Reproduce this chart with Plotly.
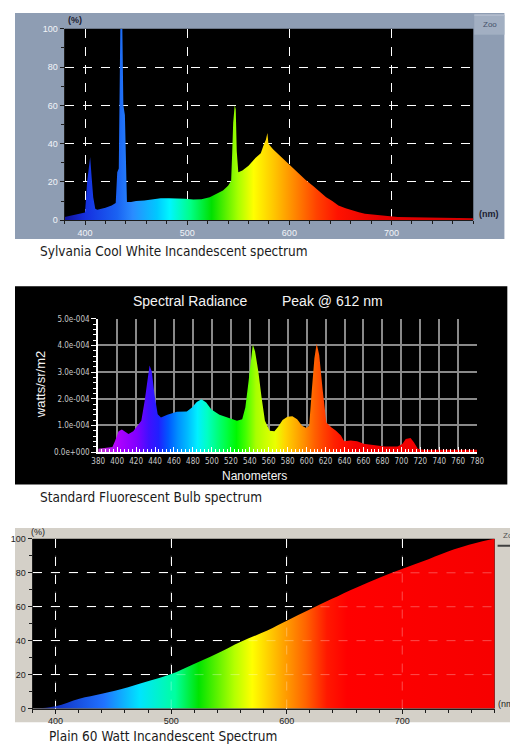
import plotly.graph_objects as go

W, H = 518, 745

# --- Sylvania Cool White (percent) ---
wl_cool = [380, 385, 390, 395, 400, 402, 403.5, 405, 406.5, 408, 410, 412, 420, 426,
           430, 431.5, 433, 434.5, 436.5, 437.5, 439, 440, 441, 445, 450, 458, 466,
           474, 482, 490, 498, 506, 514, 522, 528, 535, 540, 543, 544, 545, 546.5,
           547.5, 548.5, 550, 554, 560, 567, 572, 575, 577, 578.5, 579.5, 584, 590,
           597, 604, 610, 616, 623, 630, 636, 642, 648, 655, 661, 668, 674, 682, 690,
           698, 706, 720, 738, 755, 770, 780]
pct_cool = [1.7, 2.2, 2.8, 3.4, 4, 20, 28, 33, 22, 12, 6, 5.5, 6.5, 7.7,
            9, 25, 27, 100, 100, 60, 55, 20, 9.5, 9.5, 10, 10.3, 11,
            11.5, 11.5, 11.5, 11.2, 10.8, 11, 12, 13.5, 15.5, 18, 20.6, 35, 51, 60,
            58, 36, 25, 26, 28.5, 32.6, 35, 39.5, 42, 45.5, 40, 37, 34,
            30, 27, 24, 21, 18, 14.5, 12, 10, 7.7, 6.3, 5.2, 4.2, 3.4, 3, 2.6,
            2.1, 1.7, 1.5, 1.3, 1.1, 1.0, 1.0]

# --- Standard fluorescent (radiance, x1e-4 W/sr/m2) ---
wl_fluo = [380, 386, 395, 398, 401.5, 405, 408.5, 412, 417, 422, 425.5, 429, 432, 434.2,
           436.6, 439.4, 442.8, 446.2, 453, 463, 473.5, 479, 484, 489, 494, 499.5,
           508, 518, 526.5, 532, 535.3, 538.7, 541.5, 543.2, 545.6, 549, 552.5, 556,
           561, 566, 570, 574.6, 579.7, 585, 590, 595.2, 599.6, 602.7, 605.4, 608.2,
           610.6, 613.3, 616.7, 620.8, 626, 631, 636.2, 639.6, 646.5, 653.3, 660.2,
           672, 682.4, 696, 701.2, 704.6, 709.7, 713.2, 717.3, 723.4, 740, 760, 780]
rad_fluo = [0.12, 0.14, 0.19, 0.43, 0.78, 0.85, 0.78, 0.68, 0.78, 0.99, 1.17, 1.91, 2.78, 3.25,
            3.02, 2.16, 1.42, 1.30, 1.40, 1.51, 1.52, 1.67, 1.88, 1.98, 1.86, 1.60,
            1.40, 1.27, 1.17, 1.23, 1.67, 2.65, 3.64, 4.04, 3.77, 3.03, 2.04, 1.17,
            0.80, 0.78, 0.95, 1.20, 1.32, 1.34, 1.23, 0.99, 0.90, 0.99, 2.28, 3.52,
            4.07, 3.64, 2.41, 1.11, 0.93, 0.80, 0.62, 0.40, 0.43, 0.40, 0.31,
            0.25, 0.21, 0.21, 0.31, 0.49, 0.53, 0.37, 0.12, 0.09, 0.09, 0.09, 0.09]

# --- Plain 60 W incandescent (percent) ---
wl_inc = [380, 400, 420.5, 440, 462.7, 482, 500, 518.8, 538.4, 560.8, 583.2, 601, 619,
          638.7, 661, 680.7, 700.3, 722.7, 745, 762, 780]
pct_inc = [0, 1.4, 5.8, 8.7, 12.6, 16.5, 20.3, 26, 32, 39.5, 46, 52, 58,
           64.5, 71.5, 77.2, 82.4, 88, 93.8, 97.3, 100]

pct_ticks = [0, 20, 40, 60, 80, 100]
nm_ticks = [400, 500, 600, 700]
fluo_ticks = ["0.0e+000", "1.0e-004", "2.0e-004", "3.0e-004", "4.0e-004", "5.0e-004"]


def scale(stops):
    return [[(w - 380) / 400, c] for w, c in stops]


COOL_SCALE = scale([(380, "#12129a"), (400, "#1530e0"), (430, "#1a62f2"), (445, "#2a8cff"),
                    (468, "#00c8ff"), (480, "#00f6ff"), (500, "#00ff86"), (520, "#00e000"),
                    (545, "#a6ff00"), (560, "#ffff00"), (580, "#ffc400"), (600, "#ff8400"),
                    (620, "#ff4200"), (640, "#ff1200"), (680, "#e40000"), (780, "#d20000")])
FLUO_SCALE = scale([(380, "#c040c8"), (400, "#b000ff"), (420, "#8000ff"), (432, "#4010ff"),
                    (442, "#2020ff"), (452, "#0058ff"), (462, "#0090ff"), (472, "#00bcff"),
                    (482, "#00f0ff"), (492, "#00ffc4"), (502, "#00ff80"), (512, "#00ff40"),
                    (522, "#00f800"), (532, "#48ff00"), (542, "#a8ff00"), (552, "#ccff00"),
                    (562, "#eaff00"), (572, "#ffd400"), (582, "#ffb000"), (592, "#ff8c00"),
                    (602, "#ff6200"), (612, "#ff4000"), (622, "#ff2200"), (632, "#ff1000"),
                    (645, "#f40000"), (780, "#ee0000")])
INC_SCALE = scale([(380, "#101078"), (400, "#1232c4"), (440, "#2072ff"), (470, "#00e4ff"),
                   (500, "#00ffa0"), (520, "#00e400"), (550, "#b4ff00"), (565, "#ffff00"),
                   (590, "#ffa800"), (610, "#ff6400"), (628, "#ff1800"), (645, "#ff0000"),
                   (780, "#f60000")])


def fx(x):
    return x / W


def fy(y):
    return 1 - y / H


fig = go.Figure()
for i, (wl, val, cs, shape) in enumerate([(wl_cool, pct_cool, COOL_SCALE, "linear"),
                                          (wl_fluo, rad_fluo, FLUO_SCALE, "linear"),
                                          (wl_inc, pct_inc, INC_SCALE, "spline")]):
    suffix = "" if i == 0 else str(i + 1)
    fig.add_trace(go.Scatter(
        x=wl, y=val, xaxis="x" + suffix, yaxis="y" + suffix, mode="lines",
        line=dict(width=0, shape=shape), fill="tozeroy",
        fillgradient=dict(type="horizontal", colorscale=cs, start=380, stop=780),
        hoverinfo="skip", showlegend=False,
    ))

tick_font = dict(family="Liberation Sans, Arial", size=9)
dash_grid = dict(showgrid=True, gridcolor="#ffffff", griddash="dash", gridwidth=1,
                 zeroline=False, ticks="outside", ticklen=4, showline=True)
small_font = dict(family="DejaVu Sans Condensed, DejaVu Sans", size=8, color="#c8c8c8")

fig.update_layout(
    width=W, height=H, margin=dict(l=0, r=0, t=0, b=0),
    paper_bgcolor="#ffffff", plot_bgcolor="#000000", showlegend=False,
    xaxis=dict(domain=[fx(51), fx(471)], anchor="y", range=[380, 780],
               tickvals=nm_ticks, tickfont=dict(tick_font, color="#f2f4f8"),
               tickcolor="#1c1c1c", linecolor="#1c1c1c",
               minor=dict(dtick=20, ticks="outside", ticklen=3, tickcolor="#1c1c1c",
                          showgrid=False), **dash_grid),
    yaxis=dict(domain=[fy(210), fy(16)], anchor="x", range=[0, 100],
               tickvals=pct_ticks, tickfont=dict(tick_font, color="#f2f4f8"),
               tickcolor="#1c1c1c", linecolor="#1c1c1c",
               minor=dict(dtick=10, ticks="outside", ticklen=3, tickcolor="#1c1c1c",
                          showgrid=False), **dash_grid),
    xaxis2=dict(domain=[fx(85.5), fx(475)], anchor="y2", range=[380, 780], dtick=20,
                tickfont=small_font,
                showgrid=True, gridcolor="#8a8a8a", gridwidth=2, zeroline=False,
                showline=True, linecolor="#ffffff", linewidth=2, ticks="inside",
                ticklen=5, tickcolor="#ffffff",
                minor=dict(dtick=4, ticks="inside", ticklen=3, tickcolor="#ffffff",
                           showgrid=False)),
    yaxis2=dict(domain=[fy(445), fy(310)], anchor="x2", range=[0, 5],
                tickvals=[0, 1, 2, 3, 4, 5], ticktext=fluo_ticks, tickfont=small_font,
                showgrid=True, gridcolor="#8a8a8a", gridwidth=2, zeroline=False,
                showline=True, linecolor="#ffffff", linewidth=2, ticks="outside",
                ticklen=5, tickcolor="#ffffff",
                minor=dict(dtick=0.2, ticks="outside", ticklen=3, tickcolor="#ffffff",
                           showgrid=False)),
    xaxis3=dict(domain=[fx(18), fx(493)], anchor="y3", range=[380, 780],
                tickvals=nm_ticks, tickfont=dict(tick_font, color="#1e1e1e"),
                tickcolor="#1c1c1c", linecolor="#1c1c1c",
                minor=dict(dtick=20, ticks="outside", ticklen=3, tickcolor="#1c1c1c",
                           showgrid=False), **dash_grid),
    yaxis3=dict(domain=[fy(705), fy(533)], anchor="x3", range=[0, 100],
                tickvals=pct_ticks, tickfont=dict(tick_font, color="#1e1e1e"),
                tickcolor="#1c1c1c", linecolor="#1c1c1c",
                minor=dict(dtick=10, ticks="outside", ticklen=3, tickcolor="#1c1c1c",
                           showgrid=False), **dash_grid),
)

# panel backgrounds, black plot areas and the little "Zoom" buttons
panels = [
    dict(x0=0, x1=503, y0=0, y1=229, fill="#8e9db3", layer="below"),
    dict(x0=0, x1=506, y0=277, y1=478, fill="#000000", layer="below"),
    dict(x0=0, x1=518, y0=522, y1=719, fill="#d4d0c8", layer="below"),
    dict(x0=51, x1=471, y0=16, y1=210, fill="#000000", layer="below"),
    dict(x0=18, x1=493, y0=533, y1=705, fill="#000000", layer="below"),
    dict(x0=472, x1=503, y0=2, y1=22, fill="#a2afc2", layer="above"),
    dict(x0=496, x1=518, y0=522, y1=540, fill="#d4d0c8", layer="above"),
]
for p in panels:
    fig.add_shape(type="rect", xref="paper", yref="paper",
                  x0=fx(p["x0"]), x1=fx(p["x1"]), y0=fy(p["y1"]), y1=fy(p["y0"]),
                  fillcolor=p["fill"], line=dict(width=0), layer=p["layer"])
fig.add_shape(type="line", xref="paper", yref="paper", x0=fx(472), x1=fx(503),
              y0=fy(2), y1=fy(2), line=dict(color="#c4cdda", width=1))
fig.add_shape(type="line", xref="paper", yref="paper", x0=fx(496), x1=fx(518),
              y0=fy(540), y1=fy(540), line=dict(color="#404040", width=2))

# faint dashed grid showing through the incandescent fill
for v in nm_ticks:
    fig.add_shape(type="line", xref="x3", yref="y3 domain", x0=v, x1=v, y0=0, y1=1,
                  line=dict(color="#ffffff", width=1, dash="dash"), opacity=0.3)
for v in pct_ticks[1:-1]:
    fig.add_shape(type="line", xref="x3 domain", yref="y3", x0=0, x1=1, y0=v, y1=v,
                  line=dict(color="#ffffff", width=1, dash="dash"), opacity=0.3)


def label(text, x, y, size, color, family="Liberation Sans, Arial", anchor="center",
          angle=0):
    fig.add_annotation(text=text, x=fx(x), y=fy(y), xref="paper", yref="paper",
                       xanchor=anchor, yanchor="middle", showarrow=False, textangle=angle,
                       font=dict(family=family, size=size, color=color))


label("<b>(%)</b>", 62, 7, 9, "#1c2030")
label("<b>(nm)</b>", 487, 204, 9, "#1c2030")
label("Zoo", 488, 12, 8, "#46526a")
label("(%)", 24, 526, 9, "#1e1e1e")
label("(nm)", 506, 700, 9, "#1e1e1e")
label("Zo", 507, 530, 8, "#505050")

label("Spectral Radiance", 180, 292, 14, "#f4f4f4")
label("Peak @ 612 nm", 326, 292, 14, "#f4f4f4")
label("watts/sr/m2", 27, 377, 13, "#f4f4f4", angle=-90)
label("Nanometers", 246, 469, 12, "#f4f4f4")

cap_font = "DejaVu Sans Condensed"
label("Sylvania Cool White Incandescent spectrum", 24, 241, 13.5, "#1a1a1a", cap_font, "left")
label("Standard Fluorescent Bulb spectrum", 24, 491, 13.5, "#1a1a1a", cap_font, "left")
label("Plain 60 Watt Incandescent Spectrum", 33, 733, 13.5, "#1a1a1a", cap_font, "left")

fig.write_html("out.html")
